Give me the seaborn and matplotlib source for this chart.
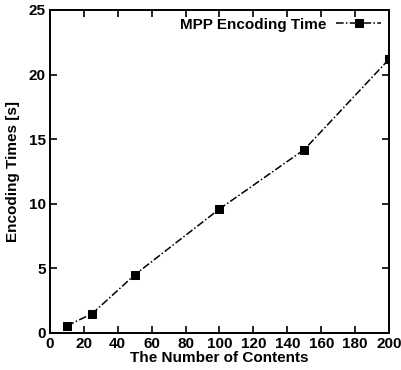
import pandas as pd
import seaborn as sns
import matplotlib
matplotlib.use("Agg")
import matplotlib.pyplot as plt

# values
contents = [10, 25, 50, 100, 150, 200]
enc_time = [0.55, 1.5, 4.5, 9.6, 14.2, 21.2]
xticks = [0, 20, 40, 60, 80, 100, 120, 140, 160, 180, 200]
yticks = [0, 5, 10, 15, 20, 25]

df = pd.DataFrame({'contents': contents, 'time': enc_time})

sns.set_style("ticks")
plt.rcParams['font.family'] = ['Liberation Sans', 'DejaVu Sans']
plt.rcParams['font.weight'] = 'bold'
plt.rcParams['text.color'] = 'black'
plt.rcParams['axes.labelcolor'] = 'black'

fig = plt.figure(figsize=(4.02, 3.70), dpi=100)
ax = fig.add_axes([0.124, 0.1, 0.844, 0.873])

sns.lineplot(data=df, x='contents', y='time', ax=ax, color='black',
             marker='s', markersize=6, markeredgecolor='black',
             linewidth=1.1, linestyle=(0, (5, 1.5, 1, 1.5)),
             label='MPP Encoding Time')

ax.set_xlim(0, 200)
ax.set_ylim(0, 25)
ax.set_xticks(xticks)
ax.set_yticks(yticks)
ax.tick_params(direction='in', top=True, right=True, length=5, width=1.2,
               labelsize=11, pad=3, colors='black')
for s in ax.spines.values():
    s.set_linewidth(1.4)
    s.set_color('black')
ax.set_xlabel('The Number of Contents', fontsize=11, fontweight='bold',
              labelpad=0, color='black')
ax.set_ylabel('Encoding Times [s]', fontsize=11, fontweight='bold',
              labelpad=6, color='black')

leg = ax.legend(loc='upper right', frameon=False, markerfirst=False,
                fontsize=11, handlelength=3, borderaxespad=0.1,
                handletextpad=0.6)
for t in leg.get_texts():
    t.set_color('black')

fig.savefig('out.png', dpi=100)
